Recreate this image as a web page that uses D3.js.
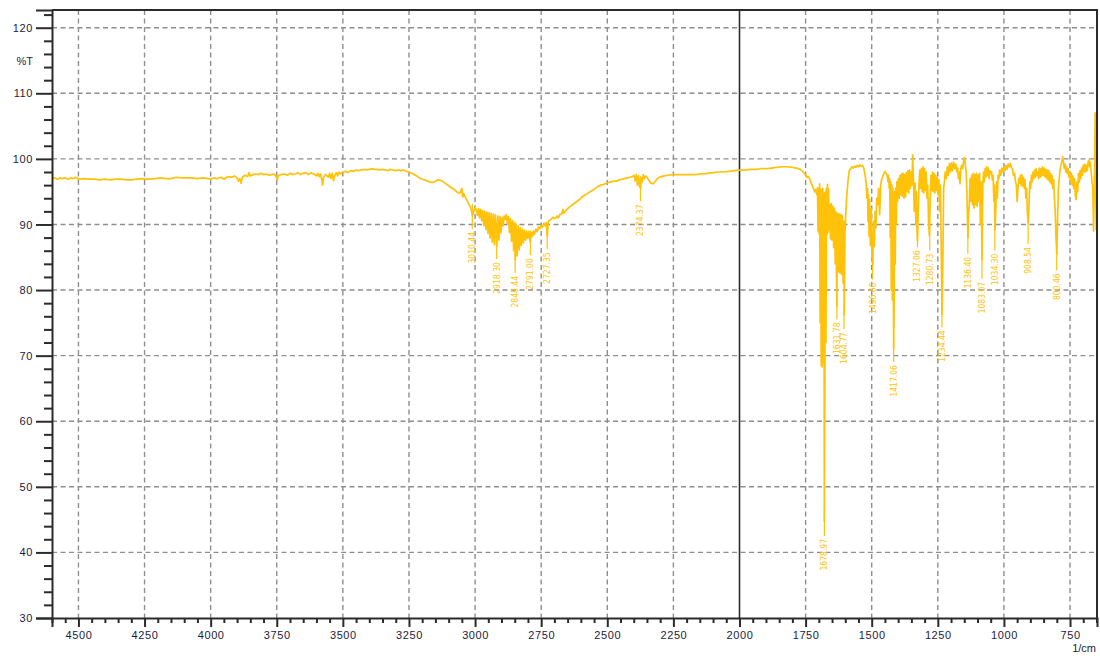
<!DOCTYPE html>
<html>
<head>
<meta charset="utf-8">
<script src="https://cdn.jsdelivr.net/npm/d3@7"></script>
<style>
  body { margin: 0; background: #fff; }
  svg { display: block; font-family: Arial, "Liberation Sans", sans-serif; }
</style>
</head>
<body>
<div id="chart"></div>
<script>
// IR spectrum as [wavenumber (1/cm), %T]
const traceHigh = [
  [4600,97.0],[4590,97.1],[4580,96.9],[4570,97.1],[4560,97.0],[4550,97.1],[4540,96.9],[4530,97.1],[4520,97.0],[4510,97.2],
  [4500,96.9],[4480,97.0],[4460,96.9],[4440,96.9],[4420,96.8],[4400,96.9],[4380,96.8],[4360,96.9],[4340,96.9],[4320,96.8],
  [4300,96.8],[4280,96.9],[4260,97.0],[4250,96.9],[4230,96.9],[4210,97.0],[4190,97.1],[4170,97.0],[4150,97.0],[4130,97.2],
  [4110,97.1],[4090,97.1],[4070,97.1],[4050,97.0],[4030,97.1],[4010,97.0],[4000,96.9],[3990,97.1],[3975,97.0],[3960,97.2],
  [3950,96.9],[3940,97.2],[3930,97.3],[3920,97.2],[3910,97.4],[3900,97.1],[3895,96.6],[3890,97.0],[3885,96.3],[3880,97.2],
  [3870,97.5],[3860,97.3],[3855,97.9],[3850,97.4],[3840,97.6],[3830,97.7],[3820,97.6],[3810,97.8],[3800,97.6],[3790,97.7],
  [3780,97.5],[3770,97.6],[3760,97.7],[3752,97.3],[3748,96.8],[3745,97.4],[3735,97.6],[3720,97.7],[3710,97.5],[3700,97.8],
  [3690,97.6],[3680,97.7],[3670,97.9],[3660,97.6],[3650,97.8],[3640,97.9],[3630,97.6],[3620,97.9],[3610,97.7],[3600,97.4],
  [3595,97.8],[3590,97.3],[3585,97.7],[3580,96.9],[3577,96.0],[3573,97.2],[3565,97.6],[3555,97.2],[3550,97.8],[3545,97.0],
  [3540,97.8],[3535,96.7],[3530,97.5],[3525,97.9],[3520,97.4],[3515,98.0],[3510,97.7],[3500,98.0],[3490,98.1],[3480,97.9],
  [3470,98.2],[3460,98.1],[3450,98.3],[3440,98.2],[3430,98.3],[3420,98.4],[3410,98.3],[3400,98.4],[3390,98.5],[3380,98.4],
  [3370,98.4],[3360,98.3],[3350,98.4],[3340,98.3],[3330,98.2],[3320,98.4],[3310,98.3],[3300,98.2],[3290,98.3],[3280,98.2],
  [3270,98.3],[3260,98.1],[3250,98.0],[3240,97.8],[3230,97.6],[3220,97.4],[3210,97.1],[3200,96.9],[3190,96.8],[3180,96.6],
  [3170,96.5],[3160,96.4],[3150,96.6],[3140,96.8],[3130,96.7],[3120,96.5],[3110,96.2],[3100,95.9],[3090,95.6],[3080,95.4],
  [3070,95.0],[3062,94.8],[3055,94.9],[3050,95.5],[3047,94.2],[3043,94.7],[3035,94.0],[3025,93.2],[3015,92.4],[3010,91.3],
  [3005,92.0],[3000,92.6]
];

const traceCH = [
  [2995,92.2],[2991,91.4],[2987,92.4],[2983,91.0],[2979,92.3],[2975,90.6],[2971,92.1],[2967,89.8],[2963,92.0],[2959,89.2],
  [2955,91.9],[2951,88.6],[2947,91.8],[2943,87.9],[2939,91.7],[2935,87.3],[2931,91.6],[2927,86.9],[2923,91.5],[2918,86.7],
  [2914,91.3],[2910,87.6],[2906,91.2],[2902,88.7],[2898,91.1],[2894,89.8],[2890,91.3],[2886,90.8],[2882,91.5],[2878,90.2],
  [2874,91.2],[2870,88.8],[2866,90.9],[2862,87.4],[2858,90.6],[2854,86.0],[2850,90.3],[2848,84.6],[2845,90.0],[2841,85.2],
  [2837,89.8],[2833,86.1],[2829,89.5],[2825,86.8],[2821,89.3],[2817,87.2],[2813,89.1],[2809,87.6],[2805,89.0],[2801,87.9],
  [2797,88.9],[2791,87.3],[2787,88.8],[2783,88.2],[2779,89.0],[2775,88.5],[2770,89.3],[2765,88.9],[2760,89.6],[2755,89.4],
  [2750,89.9],[2745,89.6],[2740,90.2],[2735,89.8],[2731,90.3],[2727,88.2],[2723,90.5],[2715,90.7],[2705,91.1],[2700,90.9]
];

const traceMid = [
  [2695,91.0],[2690,91.3],[2685,91.0],[2680,91.5],[2672,91.6],[2668,92.3],[2664,91.7],[2655,92.2],[2645,92.6],[2635,92.9],
  [2625,93.2],[2615,93.5],[2605,93.8],[2595,94.2],[2585,94.5],[2575,94.7],[2565,95.0],[2555,95.2],[2545,95.5],[2535,95.8],
  [2525,96.0],[2515,96.1],[2505,96.3],[2495,96.4],[2485,96.5],[2475,96.6],[2465,96.6],[2455,96.8],[2445,96.9],[2435,97.0],
  [2425,97.1],[2415,97.2],[2405,97.3],[2398,97.5],[2394,96.6],[2390,97.6],[2386,96.0],[2382,97.4],[2378,95.8],[2374,95.5],
  [2372,97.2],[2368,96.4],[2364,97.6],[2360,97.0],[2355,97.4],[2350,97.2],[2345,96.9],[2340,96.6],[2335,96.3],[2328,96.2],
  [2320,96.5],[2312,96.9],[2304,97.2],[2296,97.3],[2285,97.4],[2270,97.5],[2255,97.6],[2240,97.6],[2220,97.6],[2200,97.6],
  [2180,97.6],[2165,97.6],[2150,97.7],[2135,97.7],[2120,97.8],[2100,97.9],[2080,98.0],[2060,98.0],[2040,98.1],[2020,98.2],
  [2000,98.3],[1980,98.3],[1960,98.4],[1940,98.4],[1920,98.5],[1900,98.5],[1880,98.6],[1860,98.7],[1840,98.8],[1820,98.8],
  [1800,98.7],[1785,98.6],[1770,98.4],[1760,98.0],[1750,97.6]
];

const traceFingerprint = [
  [1745,97.2],[1740,97.3],[1735,97.0],[1730,96.4],[1725,96.0],[1720,95.4],[1716,95.0],[1712,95.3],[1708,94.6],
  [1705,95.6],[1703,89.0],[1701,95.5],[1699,88.6],[1697,96.2],[1695,75.0],[1693,95.4],[1691,68.5],[1689,95.3],[1687,68.3],
  [1685,95.5],[1683,69.0],[1681,94.8],[1679,44.8],[1677,68.0],[1675,95.0],[1673,72.0],[1671,95.5],[1669,88.5],[1667,96.1],
  [1665,88.8],[1663,95.4],[1661,89.2],[1659,93.0],[1656,87.8],[1653,93.2],[1650,87.6],[1647,92.8],[1644,86.5],[1641,92.5],
  [1638,84.0],[1635,91.9],[1632,77.5],[1629,91.7],[1626,82.8],[1623,91.6],[1620,82.6],[1617,91.5],[1614,82.4],[1611,91.3],
  [1608,81.0],[1605,90.5],[1604,76.2],[1601,89.0],[1598,91.5],[1595,94.0],[1590,96.5],[1585,98.2],[1580,98.5],[1575,98.8],
  [1570,98.6],[1565,98.9],[1560,98.7],[1555,99.0],[1550,98.8],[1545,99.1],[1540,98.9],[1535,99.0],[1530,98.6],[1527,98.0],
  [1524,97.2],[1521,96.3],[1518,94.0],[1516,95.5],[1514,90.5],[1512,94.5],[1510,88.2],[1508,93.8],[1505,86.8],[1502,92.5],
  [1499,85.0],[1496,83.8],[1493,90.5],[1490,86.6],[1487,92.0],[1484,89.5],[1481,94.0],[1477,93.0],[1474,95.5],[1470,91.5],
  [1466,96.0],[1462,97.0],[1458,97.3],[1454,97.8],[1450,98.1],[1446,97.8],[1442,97.6],[1438,96.5],[1436,97.5],[1434,95.5],
  [1432,97.0],[1430,88.0],[1428,96.5],[1426,80.0],[1424,96.0],[1422,78.5],[1420,95.5],[1417,71.0],[1415,78.5],[1413,95.0],
  [1411,84.0],[1409,95.5],[1407,90.0],[1405,96.5],[1402,93.5],[1399,97.0],[1396,94.0],[1393,97.5],[1390,94.5],[1387,97.7],
  [1384,94.3],[1381,97.8],[1378,94.0],[1375,97.6],[1372,94.2],[1369,97.9],[1366,95.0],[1363,98.2],[1360,94.8],[1357,98.3],
  [1354,95.5],[1351,98.0],[1348,96.0],[1345,100.6],[1342,96.5],[1339,92.0],[1336,96.3],[1333,90.0],[1331,95.0],[1329,89.5],
  [1327,87.5],[1324,92.0],[1321,96.5],[1318,98.3],[1315,95.5],[1312,98.5],[1309,95.0],[1306,98.8],[1303,94.8],[1300,98.5],
  [1297,95.2],[1294,98.0],[1291,94.0],[1288,96.0],[1285,90.5],[1282,88.3],[1279,93.5],[1276,97.5],[1273,95.2],[1270,98.0],
  [1267,95.0],[1264,97.8],[1261,94.8],[1258,97.5],[1255,95.2],[1252,97.2],[1249,94.5],[1246,96.8],[1243,92.0],[1240,96.0],
  [1237,86.0],[1234,76.3],[1231,84.0],[1228,95.5],[1225,96.5],[1222,98.0],[1218,97.0],[1214,98.8],[1210,97.5],[1206,99.3],
  [1202,98.0],[1198,99.4],[1194,98.2],[1190,99.5],[1186,98.5],[1182,99.2],[1178,98.0],[1175,98.6],[1172,97.0],[1169,98.0],
  [1166,96.2],[1163,98.5],[1160,99.0],[1156,98.5],[1152,99.8],[1149,100.2],[1146,99.0],[1143,98.2],[1140,95.0],[1138,91.0],
  [1136,88.0],[1134,91.5],[1131,93.0],[1128,97.0],[1125,93.5],[1122,97.5],[1119,93.0],[1116,97.8],[1113,92.5],[1110,97.6],
  [1107,93.0],[1104,97.8],[1101,92.8],[1098,97.6],[1095,93.5],[1092,97.8],[1089,90.0],[1086,96.5],[1083,84.6],[1080,96.0],
  [1077,98.0],[1074,96.5],[1071,98.5],[1068,97.2],[1065,98.8],[1062,97.5],[1059,98.6],[1056,97.0],[1053,98.2],[1050,97.8],
  [1047,98.0],[1044,96.8],[1041,97.5],[1038,93.5],[1036,96.0],[1034,89.2],[1031,92.0],[1028,96.5],[1025,94.0],[1022,97.5],
  [1019,97.0],[1016,98.3],[1012,97.5],[1008,98.6],[1004,98.0],[1000,98.8],[996,98.2],[992,99.0],[988,98.4],[984,99.2],
  [980,98.8],[976,99.3],[972,98.7],[968,98.5],[964,97.5],[960,97.8],[956,96.5],[953,96.0],[950,93.5],[947,95.5],
  [944,97.0],[941,96.3],[938,97.5],[935,96.0],[932,97.6],[929,95.8],[926,97.2],[923,95.5],[920,96.8],[917,94.0],
  [914,95.5],[911,91.5],[908,90.2],[905,93.0],[902,96.5],[899,95.5],[896,97.5],[893,96.5],[890,98.0],[887,97.0],
  [884,98.3],[881,97.2],[878,98.5],[875,97.5],[872,98.0],[869,97.0],[866,98.6],[863,97.2],[860,98.5],[857,97.4],
  [854,98.8],[851,97.5],[848,98.6],[845,97.3],[842,98.4],[839,97.0],[836,98.3],[833,96.8],[830,98.2],[827,96.5],
  [824,97.8],[821,96.2],[818,97.5],[815,95.5],[812,96.8],[809,94.0],[806,92.0],[803,88.0],[800,85.5],[797,91.0],
  [794,95.5],[791,97.0],[788,98.2],[784,99.0],[781,99.6],[778,100.3],[775,99.5],[772,98.6],[769,99.2],[766,98.0],
  [763,98.8],[760,97.8],[757,98.5],[754,97.2],[751,98.0],[748,96.5],[745,97.8],[742,96.0],[739,97.4],[736,95.5],
  [733,97.0],[730,94.5],[727,93.8],[724,96.5],[721,95.0],[718,97.8],[715,96.5],[712,98.2],[709,97.0],[706,98.6],
  [703,97.5],[700,99.0],[697,98.0],[694,99.2],[691,98.0],[688,99.0],[685,98.2],[682,99.4],[679,99.8],[676,98.8],
  [673,99.5],[670,98.0],[667,96.5],[664,95.8],[661,89.0],[658,96.0],[655,107.0],[653,96.0],[651,89.2],[650,90.0]
];

// peak picks
const peakWn = [3010.44, 2918.30, 2848.44, 2791.00, 2727.35, 2374.37, 1678.97, 1631.78, 1604.77, 1496.60,
                1417.06, 1327.06, 1280.73, 1234.44, 1136.40, 1083.07, 1034.30, 908.54, 800.46];
const peakT = [91.3, 86.7, 84.6, 87.3, 88.2, 95.5, 44.5, 77.5, 76.0, 83.6,
               71.0, 88.5, 88.0, 76.3, 87.5, 83.7, 88.0, 89.0, 85.0];
const peakLabels = ["3010.44", "2918.30", "2848.44", "2791.00", "2727.35", "2374.37", "1678.97", "1631.78", "1604.77", "1496.60",
                    "1417.06", "1327.06", "1280.73", "1234.44", "1136.40", "1083.07", "1034.30", "908.54", "800.46"];

const xTicks = [4500, 4250, 4000, 3750, 3500, 3250, 3000, 2750, 2500, 2250, 2000, 1750, 1500, 1250, 1000, 750];
const yTicks = [30, 40, 50, 60, 70, 80, 90, 100, 110, 120];

(function() {
  const width = 1100;
  const height = 656;
  const left = 52, right = 1097, top = 10, bottom = 618;
  const traceColor = "#ffc20a";
  const axisColor = "#2b2b2b";
  const labelColor = "#1c1c3c";

  const svg = d3.select("#chart")
    .append("svg")
    .attr("width", width)
    .attr("height", height);

  const x = d3.scaleLinear().domain([4600, 648]).range([left, right]);
  const y = d3.scaleLinear().domain([30, 122.7]).range([bottom, top]);

  // Grid
  svg.append("g").selectAll("line")
    .data(yTicks.filter(d => d > 30))
    .join("line")
    .attr("x1", left).attr("x2", right)
    .attr("y1", d => y(d)).attr("y2", d => y(d))
    .attr("stroke", "#8e8e8e")
    .attr("stroke-width", 1.4)
    .attr("stroke-dasharray", "5,3.5");

  svg.append("g").selectAll("line")
    .data(xTicks.filter(d => d !== 2000))
    .join("line")
    .attr("x1", d => x(d)).attr("x2", d => x(d))
    .attr("y1", top).attr("y2", bottom)
    .attr("stroke", "#8e8e8e")
    .attr("stroke-width", 1.4)
    .attr("stroke-dasharray", "5,3.5");

  // solid divider at 2000
  svg.append("line")
    .attr("x1", x(2000)).attr("x2", x(2000))
    .attr("y1", top).attr("y2", bottom)
    .attr("stroke", axisColor)
    .attr("stroke-width", 1.6);

  // Spectrum
  const spectrum = traceHigh.concat(traceCH, traceMid, traceFingerprint);
  const line = d3.line().x(d => x(d[0])).y(d => y(d[1]));

  svg.append("path")
    .datum(spectrum)
    .attr("d", line)
    .attr("fill", "none")
    .attr("stroke", traceColor)
    .attr("stroke-width", 1.7)
    .attr("stroke-linejoin", "round");

  // Peak leaders and labels
  const peaks = peakWn.map((wn, i) => ({ wn: wn, t: peakT[i], label: peakLabels[i] }));
  const pk = svg.append("g");
  pk.selectAll("line")
    .data(peaks)
    .join("line")
    .attr("x1", d => x(d.wn)).attr("x2", d => x(d.wn))
    .attr("y1", d => y(d.t) - 12).attr("y2", d => y(d.t) + 13)
    .attr("stroke", traceColor)
    .attr("stroke-width", 1.2);
  pk.selectAll("text")
    .data(peaks)
    .join("text")
    .attr("transform", d => `translate(${x(d.wn)},${y(d.t) + 16}) rotate(-90)`)
    .attr("text-anchor", "end")
    .attr("dy", "0.35em")
    .attr("font-family", "'Liberation Sans Narrow', 'DejaVu Sans Condensed', Arial, sans-serif")
    .attr("font-size", "8.5px")
    .attr("fill", traceColor)
    .text(d => d.label);

  // Axes
  const xMinor = d3.range(650, 4601, 50).filter(d => d % 250 !== 0);
  const yMinor = d3.range(30, 123, 2).filter(d => d % 10 !== 0);

  const gx = svg.append("g")
    .attr("transform", `translate(0,${bottom})`)
    .call(d3.axisBottom(x).tickValues(xTicks).tickSize(9).tickPadding(4).tickFormat(d3.format("d")));
  const gxm = svg.append("g")
    .attr("transform", `translate(0,${bottom})`)
    .call(d3.axisBottom(x).tickValues(xMinor).tickSize(5).tickFormat(""));
  const gy = svg.append("g")
    .attr("transform", `translate(${left},0)`)
    .call(d3.axisLeft(y).tickValues(yTicks).tickSize(16).tickPadding(3).tickFormat(d3.format("d")));
  const gym = svg.append("g")
    .attr("transform", `translate(${left},0)`)
    .call(d3.axisLeft(y).tickValues(yMinor).tickSize(8).tickFormat(""));

  [gxm, gym].forEach(g => g.select(".domain").remove());
  [gx, gxm, gy, gym].forEach(g => {
    g.selectAll(".domain").attr("stroke", axisColor).attr("stroke-width", 2);
    g.selectAll(".tick line").attr("stroke", axisColor).attr("stroke-width", 2);
    g.selectAll(".tick text")
      .attr("fill", labelColor)
      .attr("font-size", "11px")
      .attr("letter-spacing", "0.6px");
  });

  // Frame top / right
  svg.append("path")
    .attr("d", `M${left},${top}H${right}V${bottom}`)
    .attr("fill", "none")
    .attr("stroke", axisColor)
    .attr("stroke-width", 2);

  // Axis units
  svg.append("text")
    .attr("x", 33).attr("y", 61)
    .attr("dy", "0.35em")
    .attr("text-anchor", "end")
    .attr("font-size", "11px")
    .attr("fill", labelColor)
    .text("%T");
  svg.append("text")
    .attr("x", 1096).attr("y", 652)
    .attr("text-anchor", "end")
    .attr("font-size", "11px")
    .attr("fill", labelColor)
    .text("1/cm");
})();
</script>
</body>
</html>
